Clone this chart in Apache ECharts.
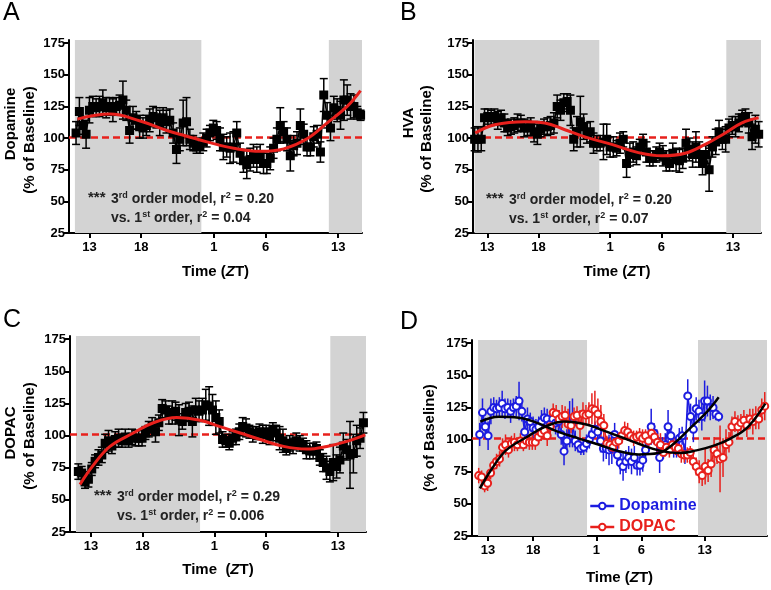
<!DOCTYPE html>
<html>
<head>
<meta charset="utf-8">
<script src="https://cdn.jsdelivr.net/npm/echarts@6/dist/echarts.min.js"></script>
<style>html,body{margin:0;padding:0;background:#fff}#c{width:771px;height:590px}</style>
</head>
<body>
<div id="c"></div>
<script>
// ---------- DATA ----------
const Y_TICKS = [25, 50, 75, 100, 125, 150, 175];
const X_TICK_POS = [13, 18, 25, 30, 37];          // hours since ZT0 of day 1
const X_TICK_LABELS = ['13', '18', '1', '6', '13'];
const BASELINE = 101;

// Panel A: Dopamine (% of baseline), sampled every ~20 min
const A_START = 11.71, A_STEP = 0.323;
const A_VALUES = [104,121,110,103,122,125,124,125,128,124,
  125,122,125,126,130,122,106,116,114,109,
  108,110,114,117,116,112,116,113,114,104,
  91,99,112,113,99,96,93,94,97,100,
  104,108,106,99,93,93,92,93,104,88,
  82,79,83,86,83,86,80,80,84,92,
  99,110,105,99,86,94,96,110,103,93,
  93,101,103,89,134,118,108,124,122,118,
  130,130,125,125,120,118];
const A_ERRORS = [9,11,7,11,10,8,7,8,10,8,
  7,9,7,8,15,8,10,9,7,9,
  8,8,9,8,8,10,8,9,9,8,
  11,9,18,19,8,6,5,6,7,7,
  6,6,7,9,10,8,12,12,9,8,
  9,11,9,9,10,9,8,8,9,8,
  9,14,8,9,12,8,9,13,8,7,
  7,8,7,8,13,10,10,9,9,11,
  16,12,10,9,5,4];
const A_FIT_T = [11.84,15.0,17.9,20.47,22.4,24.34,26.92,29.5,31.75,34.0,35.94,37.87,39.16];
const A_FIT_V = [115,119,113.5,106,101.5,97,92,89.5,91.5,99.5,112,125,137.5];

// Panel B: HVA
const B_START = 11.76, B_STEP = 0.3227;
const B_VALUES = [99,99,99,116,117,116,117,114,116,112,
  108,109,110,112,112,108,108,109,105,103,
  107,109,109,110,112,125,122,128,129,122,
  99,105,113,109,104,105,96,96,96,97,
  99,93,93,92,96,99,80,87,89,86,
  93,96,89,84,84,87,89,86,82,80,
  88,83,82,84,96,91,87,93,87,80,
  87,75,93,97,105,99,99,108,110,109,
  112,116,117,112,101,107,103];
const B_ERRORS = [9,10,9,7,6,6,6,7,6,7,
  6,6,6,7,6,7,6,7,8,8,
  6,6,7,7,8,9,8,7,6,12,
  9,12,20,10,8,8,8,6,6,14,
  12,8,8,6,8,6,11,9,8,7,
  6,7,8,6,6,6,7,8,8,6,
  8,9,9,8,11,9,10,12,10,9,
  7,17,8,10,9,8,10,7,7,8,
  7,6,6,8,10,11,10];
const B_FIT_T = [11.82,13.72,16.66,18.62,20.58,22.53,25.15,27.76,30.05,32.33,34.29,36.25,37.88,39.51];
const B_FIT_V = [104,110.5,113,112,106.6,101,95,88.5,86,88,95,104,112,116];

// Panel C: DOPAC
const C_START = 11.77, C_STEP = 0.326;
const C_VALUES = [72,71,64,66,74,80,83,85,94,96,
  92,97,98,96,99,96,99,98,98,98,
  102,105,107,103,110,121,120,116,118,119,
  112,111,118,119,111,120,119,120,124,123,
  120,114,111,97,96,94,98,99,103,107,
  106,103,101,102,103,101,103,99,105,102,
  98,96,90,94,92,96,94,93,89,88,
  88,90,83,79,75,72,79,76,81,92,
  89,85,86,96,98,110];
const C_ERRORS = [6,5,5,6,5,5,6,6,7,8,
  6,6,7,5,6,5,6,6,6,6,
  5,6,7,8,6,7,7,7,9,7,
  12,6,7,7,12,9,8,9,12,15,
  12,13,9,6,5,5,5,6,6,7,
  7,5,6,5,6,7,5,6,5,6,
  9,9,5,6,6,6,6,5,7,6,
  6,5,6,7,9,8,14,9,10,10,
  8,26,15,12,8,8];
const C_FIT_T = [11.93,13.23,14.85,17.12,19.07,21.34,23.6,25.55,27.5,29.44,31.72,33.99,35.93,37.88,39.66];
const C_FIT_V = [62,77,91.6,102,110,114,112,107,102,97,91.6,89.5,91.6,95.5,100.6];

// Panel D: overlay (dopamine = panel A values, DOPAC = panel C values + later samples)
const D_DA_START = 12.08, D_DA_STEP = 0.3114;
const D_DOPAC_START = 11.97, D_DOPAC_STEP = 0.33;
const D_DOPAC_EXTRA = [114,110,113,115,111,116,114,117,116,123,126];
const D_DOPAC_EXTRA_ERR = [8,9,7,8,9,8,10,9,8,9,11];
const D_DA_FIT_T = [12.15,14.2,16.4,18.6,20.8,23.0,25.3,27.5,29.7,31.9,33.6,35.4,37.3,38.55];
const D_DA_FIT_V = [114,117.8,117,112.6,106,101,96,91,88.4,89.5,97,109,122,133];
const D_DOPAC_FIT_T = [12.1,13.4,15.0,17.3,19.3,21.5,23.8,25.8,27.7,29.6,31.9,34.2,36.1,38.1,39.9,41.8,43.7];
const D_DOPAC_FIT_V = [62,77,91.6,102,110,114,112,107,102,97,91.6,89.5,91.6,95.5,101,110,128];

// ---------- STYLE / LAYOUT ----------
const FONT = '"Liberation Sans", Arial, Helvetica, sans-serif';
const RED = '#e8201c', BLUE = '#1c1ce0', GRAY = '#d3d3d3';
const panels = [
  {grid:{left:69, top:40, width:293, height:193}, xr:[11.03,39.3], dark:[[11.6,23.8],[36.1,39.3]], gap:31},
  {grid:{left:473, top:40, width:288, height:193}, xr:[11.6,39.74], dark:[[11.75,23.94],[36.35,39.74]], gap:31},
  {grid:{left:70, top:336, width:296, height:196}, xr:[10.96,39.73], dark:[[11.54,23.6],[36.26,39.73]], gap:30, name:'Time  ({i|Z}T)'},
  {grid:{left:472, top:340, width:295, height:196}, xr:[11.23,43.9], dark:[[11.9,23.97],[36.26,43.9]], gap:34}
];

function times(start, step, n){ const a=[]; for(let i=0;i<n;i++) a.push(start+i*step); return a; }
function pairs(ts, vs){ return vs.map((v,i)=>[ts[i], v]); }

const grids = [], xAxes = [], yAxes = [], series = [];
panels.forEach((p, gi) => {
  grids.push(p.grid);
  xAxes.push({
    type:'value', gridIndex:gi, min:p.xr[0], max:p.xr[1],
    name: p.name || 'Time ({i|Z}T)', nameLocation:'middle', nameGap:p.gap,
    nameTextStyle:{fontFamily:FONT, fontWeight:'bold', fontSize:15, color:'#000',
      rich:{i:{fontFamily:FONT, fontWeight:'bold', fontStyle:'italic', fontSize:15, color:'#000'}}},
    axisLine:{show:true, onZero:false, lineStyle:{color:'#000', width:2}},
    axisTick:{show:true, length:5, lineStyle:{color:'#000', width:2}, customValues:X_TICK_POS},
    axisLabel:{customValues:X_TICK_POS, margin:8, fontFamily:FONT, fontWeight:'bold', fontSize:13, color:'#000',
      formatter:v => { const k = X_TICK_POS.indexOf(v); return k >= 0 ? X_TICK_LABELS[k] : ''; }},
    splitLine:{show:false}
  });
  yAxes.push({
    type:'value', gridIndex:gi, min:25, max:177.5,
    axisLine:{show:true, onZero:false, lineStyle:{color:'#000', width:2}},
    axisTick:{show:true, length:5, lineStyle:{color:'#000', width:2}, customValues:Y_TICKS},
    axisLabel:{customValues:Y_TICKS, margin:4, fontFamily:FONT, fontWeight:'bold', fontSize:13, color:'#000'},
    splitLine:{show:false}
  });
  series.push({
    type:'line', xAxisIndex:gi, yAxisIndex:gi, data:[], silent:true,
    markArea:{silent:true, z:1, itemStyle:{color:GRAY}, label:{show:false},
      data:p.dark.map(d => [{xAxis:d[0]}, {xAxis:d[1]}])},
    markLine:{silent:true, z:2, symbol:'none', label:{show:false}, animation:false,
      lineStyle:{type:[7,4], color:RED, width:2.5}, data:[{yAxis:BASELINE}]}
  });
});

function errSeries(gi, ts, vals, errs, color, cap, lw){
  return {
    type:'custom', xAxisIndex:gi, yAxisIndex:gi, z:3, silent:true,
    data: vals.map((v,i)=>[ts[i], v-errs[i], v+errs[i]]),
    encode:{x:0, y:[1,2]},
    renderItem:(params, api) => {
      const x = api.value(0);
      const lo = api.coord([x, api.value(1)]), hi = api.coord([x, api.value(2)]);
      const st = {stroke:color, lineWidth:lw};
      const ch = [{type:'line', shape:{x1:lo[0], y1:lo[1], x2:hi[0], y2:hi[1]}, style:st}];
      if (cap) {
        ch.push({type:'line', shape:{x1:lo[0]-cap, y1:lo[1], x2:lo[0]+cap, y2:lo[1]}, style:st});
        ch.push({type:'line', shape:{x1:hi[0]-cap, y1:hi[1], x2:hi[0]+cap, y2:hi[1]}, style:st});
      }
      return {type:'group', children:ch};
    }
  };
}
function dataSeries(gi, name, ts, vals, color, symbol){
  return {
    type:'line', name, xAxisIndex:gi, yAxisIndex:gi, z:4, silent:true,
    data:pairs(ts, vals), symbol, symbolSize: symbol === 'rect' ? 7.5 : 7, showSymbol:true,
    itemStyle:{color, borderColor:color, borderWidth:1.5},
    lineStyle:{color, width:1.5}
  };
}
function fitSeries(gi, ts, vals, color, w){
  return {type:'line', xAxisIndex:gi, yAxisIndex:gi, z:5, silent:true, smooth:0.4,
    symbol:'none', showSymbol:false, data:pairs(ts, vals), lineStyle:{color, width:w}};
}

// Panel A
const tA = times(A_START, A_STEP, A_VALUES.length);
series.push(errSeries(0, tA, A_VALUES, A_ERRORS, '#000', 4, 1.5));
series.push(dataSeries(0, 'Dopamine (A)', tA, A_VALUES, '#000', 'rect'));
series.push(fitSeries(0, A_FIT_T, A_FIT_V, RED, 3));
// Panel B
const tB = times(B_START, B_STEP, B_VALUES.length);
series.push(errSeries(1, tB, B_VALUES, B_ERRORS, '#000', 4, 1.5));
series.push(dataSeries(1, 'HVA', tB, B_VALUES, '#000', 'rect'));
series.push(fitSeries(1, B_FIT_T, B_FIT_V, RED, 3));
// Panel C
const tC = times(C_START, C_STEP, C_VALUES.length);
series.push(errSeries(2, tC, C_VALUES, C_ERRORS, '#000', 4, 1.5));
series.push(dataSeries(2, 'DOPAC (C)', tC, C_VALUES, '#000', 'rect'));
series.push(fitSeries(2, C_FIT_T, C_FIT_V, RED, 3));
// Panel D
const dDopac = C_VALUES.concat(D_DOPAC_EXTRA), dDopacErr = C_ERRORS.concat(D_DOPAC_EXTRA_ERR);
const tDa = times(D_DA_START, D_DA_STEP, A_VALUES.length);
const tDo = times(D_DOPAC_START, D_DOPAC_STEP, dDopac.length);
series.push(errSeries(3, tDa, A_VALUES, A_ERRORS, BLUE, 0, 1.5));
series.push(errSeries(3, tDo, dDopac, dDopacErr, RED, 0, 1.5));
series.push(dataSeries(3, 'Dopamine', tDa, A_VALUES, BLUE, 'emptyCircle'));
series.push(dataSeries(3, 'DOPAC', tDo, dDopac, RED, 'emptyCircle'));
series.push(fitSeries(3, D_DA_FIT_T, D_DA_FIT_V, '#000', 2.5));
series.push(fitSeries(3, D_DOPAC_FIT_T, D_DOPAC_FIT_V, '#000', 2.5));

// ---------- TEXT ----------
const annStyle = {fontFamily:FONT, fontWeight:'bold', fontSize:14, fill:'#222', lineHeight:16,
  rich:{s:{fontFamily:FONT, fontWeight:'bold', fontSize:9, fill:'#222', lineHeight:16, verticalAlign:'top'}}};
function ann(x, y1, y2, r3, r1){
  return [
    {type:'text', z:50, left:x-23, top:y1-9, style:{text:'***', fontFamily:FONT, fontWeight:'bold', fontSize:15, fill:'#222'}},
    {type:'text', z:50, left:x, top:y1-8, style:Object.assign({text:'3{s|rd} order model, r{s|2} = ' + r3}, annStyle)},
    {type:'text', z:50, left:x, top:y2-8, style:Object.assign({text:'vs. 1{s|st} order, r{s|2} = ' + r1}, annStyle)}
  ];
}
function letter(t, x, y){ return {type:'text', z:50, left:x, top:y, style:{text:t, fontFamily:FONT, fontSize:25, fill:'#000'}}; }
function ytitle(t, cx, cy){
  return {type:'text', z:50, x:cx, y:cy, rotation:Math.PI/2,
    style:{text:t, fontFamily:FONT, fontWeight:'bold', fontSize:15, fill:'#000', align:'center', verticalAlign:'middle'}};
}

const graphic = [
  letter('A', 3, 1), letter('B', 400, 1), letter('C', 3, 308), letter('D', 400, 310),
  ytitle('Dopamine', 11, 124), ytitle('(% of Baseline)', 30, 140),
  ytitle('HVA', 409, 123), ytitle('(% of Baseline)', 427, 139),
  ytitle('DOPAC', 11, 433), ytitle('(% of Baseline)', 30, 436),
  ytitle('(% of Baseline)', 430, 438)
].concat(ann(111, 199, 218, '0.20', '0.04'), ann(509, 200, 219, '0.20', '0.07'), ann(117, 497, 516, '0.29', '0.006'));

const chart = echarts.init(document.getElementById('c'), null, {renderer:'canvas'});
chart.setOption({
  animation:false,
  backgroundColor:'#fff',
  grid:grids, xAxis:xAxes, yAxis:yAxes, series,
  legend:{
    data:[{name:'Dopamine', textStyle:{color:BLUE}}, {name:'DOPAC', textStyle:{color:RED}}],
    orient:'vertical', left:584, top:493, itemWidth:24, itemHeight:8, itemGap:5, selectedMode:false,
    lineStyle:{width:2.5},
    textStyle:{fontFamily:FONT, fontWeight:'bold', fontSize:16}
  },
  graphic:{elements:graphic}
});
</script>
</body>
</html>
